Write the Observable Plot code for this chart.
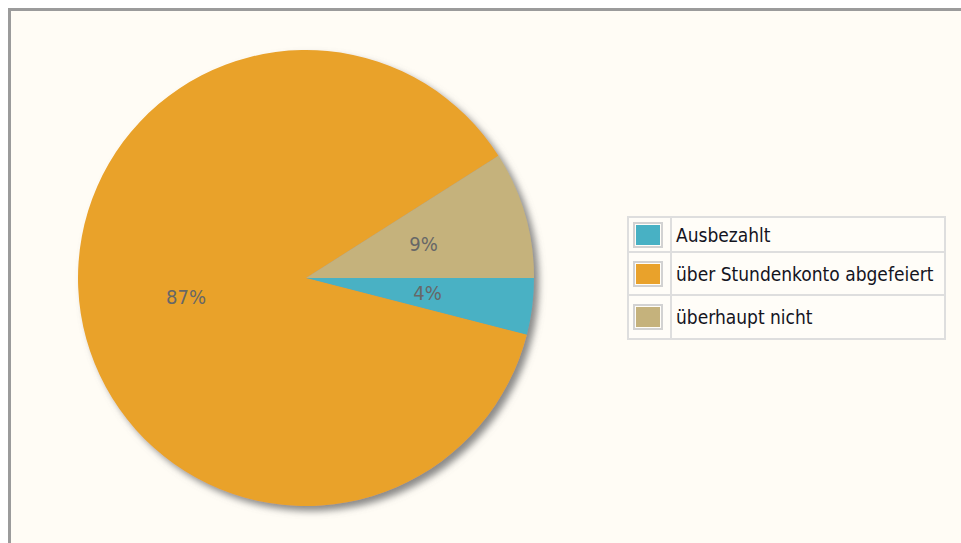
<!DOCTYPE html>
<html>
<head>
<meta charset="utf-8">
<script src="https://cdn.jsdelivr.net/npm/d3@7"></script>
<script src="https://cdn.jsdelivr.net/npm/@observablehq/plot@0.6"></script>
<style>
  html, body { margin: 0; padding: 0; background: #ffffff; width: 961px; height: 543px; overflow: hidden; }
  #frame { position: absolute; left: 8px; top: 8px; width: 1000px; height: 600px; border: 3px solid #9b9b9b; background: #fffcf5; box-sizing: border-box; }
  #chart { position: absolute; left: 0; top: 0; }
  #legend { position: absolute; left: 627px; top: 216px; border-collapse: collapse; border: 2px solid #dedede; background: #fffdf8;
            font-family: "DejaVu Sans Condensed", "DejaVu Sans", sans-serif; font-size: 19px; color: #14141e; }
  #legend td { border: 2px solid #dedede; padding: 0; vertical-align: middle; }
  #legend td.sw { width: 37px; padding-left: 4px; }
  #legend td.lab { width: 268px; padding-left: 4px; white-space: nowrap; }
  .swatch { display: block; width: 24px; height: 20px; border: 2px solid #d2d2d2; padding: 1px; background-clip: content-box; background-color: #fff; }
</style>
</head>
<body>
<div id="frame"></div>
<div id="chart"></div>
<table id="legend"></table>
<script>
// ---- data ----
const categories = ["Ausbezahlt", "über Stundenkonto abgefeiert", "überhaupt nicht"];
const shares = [4, 87, 9];
const shareLabels = ["4%", "87%", "9%"];
const colors = ["#48b1c4", "#e9a22b", "#c5b27c"];

const rows = categories.map((c, i) => ({category: c, share: shares[i], label: shareLabels[i]}));

// slices start at 3 o'clock and run clockwise
const arcs = d3.pie().value(d => d.share).sort(null)
  .startAngle(Math.PI / 2).endAngle(Math.PI / 2 + 2 * Math.PI)(rows);

const labelRadius = 0.535;

function pieMark(index, scales, values, dimensions, context) {
  const x = scales.x, y = scales.y;
  const color = scales.color || (c => colors[categories.indexOf(c)]);
  const cx = x(0), cy = y(0), R = x(1) - x(0);
  const g = d3.create("svg:g");
  const defs = g.append("defs");
  const f = defs.append("filter").attr("id", "pieShadow")
    .attr("x", "-10%").attr("y", "-10%").attr("width", "125%").attr("height", "125%");
  f.append("feDropShadow").attr("dx", 5).attr("dy", 5).attr("stdDeviation", 3.5)
    .attr("flood-color", "#6e6e6e").attr("flood-opacity", 0.8);
  const arc = d3.arc().innerRadius(0).outerRadius(R);
  const pg = g.append("g").attr("transform", `translate(${cx},${cy})`).attr("filter", "url(#pieShadow)");
  pg.selectAll("path").data(arcs).join("path")
    .attr("d", arc)
    .attr("fill", d => color(d.data.category));
  return g.node();
}

const plot = Plot.plot({
  width: 961,
  height: 543,
  margin: 0,
  x: {domain: [-1, 1], range: [306 - 228, 306 + 228], axis: null},
  y: {domain: [-1, 1], range: [278 + 228, 278 - 228], axis: null},
  color: {domain: categories, range: colors},
  style: {background: "transparent", overflow: "visible"},
  marks: [
    Plot.dot(rows, {x: () => 0, y: () => 0, fill: "category", r: 0}),
    pieMark,
    Plot.text(arcs, {
      x: d => labelRadius * Math.sin((d.startAngle + d.endAngle) / 2),
      y: d => labelRadius * Math.cos((d.startAngle + d.endAngle) / 2),
      text: d => d.data.label,
      fill: "#676767",
      fontSize: 20,
      fontFamily: "'DejaVu Sans Condensed', sans-serif",
      textAnchor: "middle",
      lineAnchor: "middle"
    })
  ]
});
document.getElementById("chart").appendChild(plot);

// ---- legend (uses the plot's color scale) ----
const colorScale = plot.scale("color");
const heights = [35, 43, 44];
const tr = d3.select("#legend").selectAll("tr").data(categories).join("tr")
  .style("height", (d, i) => heights[i] + "px");
tr.append("td").attr("class", "sw").append("span").attr("class", "swatch")
  .style("background-color", d => colorScale ? colorScale.apply(d) : colors[categories.indexOf(d)]);
tr.append("td").attr("class", "lab").text(d => d);
</script>
</body>
</html>
